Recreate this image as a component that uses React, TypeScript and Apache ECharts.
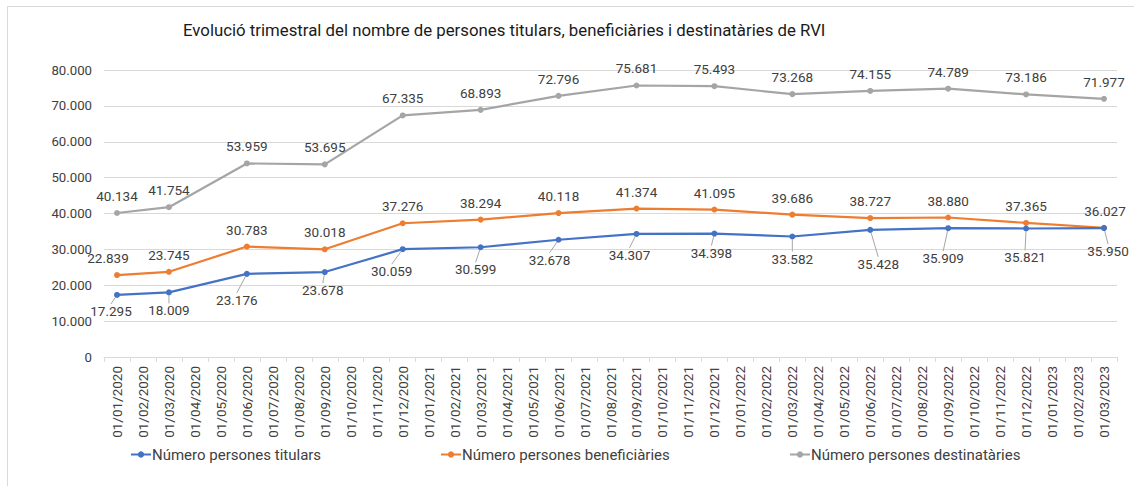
import React, { useEffect, useRef } from "react";
import * as echarts from "echarts";

const categories = [
  "01/01/2020","01/02/2020","01/03/2020","01/04/2020","01/05/2020","01/06/2020","01/07/2020","01/08/2020","01/09/2020","01/10/2020","01/11/2020","01/12/2020",
  "01/01/2021","01/02/2021","01/03/2021","01/04/2021","01/05/2021","01/06/2021","01/07/2021","01/08/2021","01/09/2021","01/10/2021","01/11/2021","01/12/2021",
  "01/01/2022","01/02/2022","01/03/2022","01/04/2022","01/05/2022","01/06/2022","01/07/2022","01/08/2022","01/09/2022","01/10/2022","01/11/2022","01/12/2022",
  "01/01/2023","01/02/2023","01/03/2023",
];

const dataDates = [
  "01/01/2020","01/03/2020","01/06/2020","01/09/2020","01/12/2020",
  "01/03/2021","01/06/2021","01/09/2021","01/12/2021",
  "01/03/2022","01/06/2022","01/09/2022","01/12/2022","01/03/2023",
];

const titulars = [17295, 18009, 23176, 23678, 30059, 30599, 32678, 34307, 34398, 33582, 35428, 35909, 35821, 35950];
const beneficiaries = [22839, 23745, 30783, 30018, 37276, 38294, 40118, 41374, 41095, 39686, 38727, 38880, 37365, 36027];
const destinataries = [40134, 41754, 53959, 53695, 67335, 68893, 72796, 75681, 75493, 73268, 74155, 74789, 73186, 71977];

const seriesNames = [
  "Número persones titulars",
  "Número persones beneficiàries",
  "Número persones destinatàries",
];

const fmt = (v: number) =>
  String(Math.round(v)).replace(/\B(?=(\d{3})+(?!\d))/g, ".");

// label displacement for the blue series (Excel-like leader lines)
const titularOffsets: [number, number][] = [
  [-6, 0], [0, 2], [-10, 10], [-2, 2], [-11, 6], [-5, 6], [-9, 4], [-7, 5], [-3, 3], [0, 6], [8, 18], [-5, 14], [-1, 13], [4, 7],
];
const benefOffsets: [number, number][] = [
  [-9, 0], [0, 0], [0, 0], [0, 0], [0, 0], [0, 0], [0, 0], [0, 0], [0, 0], [0, 0], [0, 0], [0, 0], [0, 0], [1, 0],
];

const FONT = "Roboto, 'Open Sans', sans-serif";

export default function App() {
  const ref = useRef<HTMLDivElement>(null);
  useEffect(() => {
    if (!ref.current) return;
    const chart = echarts.init(ref.current, null, { renderer: "svg" });
    const mk = (vals: number[]) => vals.map((v, i) => [dataDates[i], v]);
    const labelBase = {
      show: true,
      color: "#404040",
      fontSize: 13.5,
      fontFamily: FONT,
      formatter: (p: any) => fmt(p.value[1]),
    };
    const colors = ["#4472C4", "#ED7D31", "#A5A5A5"];
    const legendBase = {
      top: 447,
      itemWidth: 20,
      itemHeight: 8,
      itemGap: 0,
      padding: 0,
      textStyle: { color: "#404040", fontSize: 15, fontFamily: FONT, padding: [0, 0, 0, -4] },
    };
    chart.setOption({
      animation: false,
      color: colors,
      title: {
        text: "Evolució trimestral del nombre de persones titulars, beneficiàries i destinatàries de RVI",
        left: 178,
        top: 16,
        textStyle: { color: "#1a1a1a", fontSize: 16.8, fontWeight: "normal", fontFamily: FONT },
      },
      legend: [
        { ...legendBase, left: 130, data: [seriesNames[0]] },
        { ...legendBase, left: 440, data: [seriesNames[1]] },
        { ...legendBase, left: 789, data: [seriesNames[2]] },
      ],
      grid: { left: 104, right: 17, top: 70, bottom: 129 },
      xAxis: {
        type: "category",
        data: categories,
        boundaryGap: true,
        axisLine: { lineStyle: { color: "#d9d9d9" } },
        axisTick: { show: true, lineStyle: { color: "#d9d9d9" }, length: 5 },
        axisLabel: {
          interval: 0,
          rotate: 90,
          color: "#404040",
          fontSize: 13.5,
          fontFamily: FONT,
          margin: 9,
        },
      },
      yAxis: {
        type: "value",
        min: 0,
        max: 80000,
        interval: 10000,
        axisLine: { show: false },
        axisTick: { show: false },
        splitLine: { lineStyle: { color: "#d9d9d9" } },
        axisLabel: {
          color: "#404040",
          fontSize: 13.2,
          fontFamily: FONT,
          margin: 12,
          formatter: (v: number) => fmt(v),
        },
      },
      series: [
        {
          name: seriesNames[0],
          type: "line",
          data: mk(titulars),
          symbol: "circle",
          symbolSize: 6,
          lineStyle: { width: 2.2 },
          label: { ...labelBase, position: "bottom", distance: 6 },
          labelLine: { show: true, lineStyle: { color: "#a6a6a6", width: 1 } },
          labelLayout: (p: any) => {
            const o = titularOffsets[p.dataIndex] || [0, 0];
            return { dx: o[0], dy: o[1] };
          },
          z: 3,
        },
        {
          name: seriesNames[1],
          type: "line",
          data: mk(beneficiaries),
          symbol: "circle",
          symbolSize: 6,
          lineStyle: { width: 2.2 },
          label: { ...labelBase, position: "top", distance: 7 },
          labelLayout: (p: any) => {
            const o = benefOffsets[p.dataIndex] || [0, 0];
            return { dx: o[0], dy: o[1] };
          },
          z: 2,
        },
        {
          name: seriesNames[2],
          type: "line",
          data: mk(destinataries),
          symbol: "circle",
          symbolSize: 6,
          lineStyle: { width: 2.2 },
          label: { ...labelBase, position: "top", distance: 7 },
          z: 1,
        },
      ],
    });
    return () => chart.dispose();
  }, []);
  return (
    <div style={{ position: "fixed", left: 0, top: 0, width: 1134, height: 486, background: "#fff" }}>
      <div
        style={{
          position: "absolute",
          left: 7,
          top: 6,
          width: 1140,
          height: 500,
          border: "1px solid #d9d9d9",
          boxSizing: "border-box",
        }}
      />
      <div ref={ref} style={{ position: "absolute", left: 0, top: 0, width: 1134, height: 486 }} />
    </div>
  );
}
